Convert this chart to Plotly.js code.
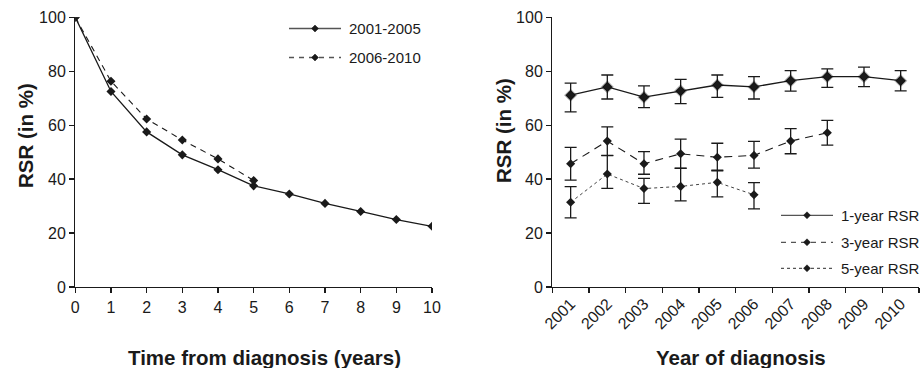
<!DOCTYPE html>
<html>
<head>
<meta charset="utf-8">
<script src="https://cdn.plot.ly/plotly-3.0.1.min.js"></script>
<style>html,body{margin:0;padding:0;background:#fff;}#chart{width:921px;height:368px;}</style>
</head>
<body>
<div id="chart"></div>
<script>
// ---- Left panel: RSR by time from diagnosis ----
const timeYears = [0, 1, 2, 3, 4, 5, 6, 7, 8, 9, 10];
const rsr2001_2005 = [100, 72.5, 57.5, 49, 43.5, 37.5, 34.5, 31, 28, 25, 22.5];
const timeYearsB = [0, 1, 2, 3, 4, 5];
const rsr2006_2010 = [100, 76.3, 62.3, 54.5, 47.5, 39.5];
const leftSeriesNames = ['2001-2005', '2006-2010'];

// ---- Right panel: RSR by year of diagnosis ----
const diagYears = ["2001", "2002", "2003", "2004", "2005", "2006", "2007", "2008", "2009", "2010"];
const rsr1y = [71.1, 74.2, 70.4, 72.7, 74.9, 74.2, 76.5, 78.0, 78.0, 76.5];
const rsr1yUpper = [75.6, 78.6, 74.6, 77.0, 78.6, 78.0, 80.2, 80.9, 81.5, 80.2];
const rsr1yLower = [64.9, 69.7, 66.5, 68.0, 70.3, 69.7, 72.6, 74.0, 74.3, 72.7];

const diagYears3 = ["2001", "2002", "2003", "2004", "2005", "2006", "2007", "2008"];
const rsr3y = [45.7, 54.1, 45.7, 49.4, 48.1, 48.8, 54.1, 57.2];
const rsr3yUpper = [51.8, 59.4, 50.2, 54.8, 53.3, 54.0, 58.7, 61.8];
const rsr3yLower = [39.6, 48.8, 41.8, 44.1, 43.3, 44.1, 49.4, 52.6];

const diagYears5 = ["2001", "2002", "2003", "2004", "2005", "2006"];
const rsr5y = [31.4, 41.9, 36.5, 37.3, 38.8, 34.2];
const rsr5yUpper = [37.2, 48.7, 40.3, 44.0, 43.1, 38.7];
const rsr5yLower = [25.6, 36.6, 31.0, 31.9, 33.4, 29.0];
const rightSeriesNames = ['1-year RSR', '3-year RSR', '5-year RSR'];

const ink = '#1a1a1a';
const legendInk = '#555';
const FONT = 'Liberation Sans, Arial, sans-serif';

function errs(vals, up, lo) {
  return {
    type: 'data', symmetric: false,
    array: up.map((u, i) => +(u - vals[i]).toFixed(2)),
    arrayminus: lo.map((l, i) => +(vals[i] - l).toFixed(2)),
    color: ink, thickness: 1.3, width: 6
  };
}

const traces = [
  {x: timeYears, y: rsr2001_2005, name: leftSeriesNames[0], type: 'scatter', mode: 'lines+markers',
   xaxis: 'x', yaxis: 'y', showlegend: false,
   line: {color: ink, width: 1.3}, marker: {symbol: 'diamond', size: 7, color: ink}},
  {x: timeYearsB, y: rsr2006_2010, name: leftSeriesNames[1], type: 'scatter', mode: 'lines+markers',
   xaxis: 'x', yaxis: 'y', showlegend: false,
   line: {color: ink, width: 1.1, dash: '6px,5px'}, marker: {symbol: 'diamond', size: 7, color: ink}},
  {x: diagYears, y: rsr1y, name: rightSeriesNames[0], type: 'scatter', mode: 'lines+markers',
   xaxis: 'x2', yaxis: 'y2', showlegend: false,
   error_y: errs(rsr1y, rsr1yUpper, rsr1yLower),
   line: {color: ink, width: 1.3}, marker: {symbol: 'diamond', size: 8, color: ink, line: {color: 'rgba(0,0,0,0.3)', width: 2}}},
  {x: diagYears3, y: rsr3y, name: rightSeriesNames[1], type: 'scatter', mode: 'lines+markers',
   xaxis: 'x2', yaxis: 'y2', showlegend: false,
   error_y: errs(rsr3y, rsr3yUpper, rsr3yLower),
   line: {color: ink, width: 1.1, dash: '8px,6px'}, marker: {symbol: 'diamond', size: 7, color: ink}},
  {x: diagYears5, y: rsr5y, name: rightSeriesNames[2], type: 'scatter', mode: 'lines+markers',
   xaxis: 'x2', yaxis: 'y2', showlegend: false,
   error_y: errs(rsr5y, rsr5yUpper, rsr5yLower),
   line: {color: '#444', width: 1, dash: 'dot'}, marker: {symbol: 'diamond', size: 7, color: ink}}
];

const W = 921, H = 368;
const px = v => v / W;
const py = v => (H - v) / H;

const axisCommon = {
  showline: true, linecolor: ink, linewidth: 1.3, ticks: 'outside', ticklen: 5, tickwidth: 1.3,
  tickcolor: ink, showgrid: false, zeroline: false, fixedrange: true,
  tickfont: {family: FONT, size: 16, color: ink}
};

// Hand-drawn legends (long sample lines like the original)
const shapes = [];
const annotations = [];
function legendItem(x0, x1, y, dash, label) {
  shapes.push({type: 'line', xref: 'paper', yref: 'paper', x0: px(x0), x1: px(x1), y0: py(y), y1: py(y),
    line: {color: legendInk, width: 1.3, dash: dash}});
  const cx = (x0 + x1) / 2, r = 3.5;
  shapes.push({type: 'path', xref: 'paper', yref: 'paper',
    path: `M${px(cx)},${py(y - r)} L${px(cx + r)},${py(y)} L${px(cx)},${py(y + r)} L${px(cx - r)},${py(y)} Z`,
    fillcolor: ink, line: {color: ink, width: 0.5}});
  annotations.push({text: label, x: px(x1 + 6), y: py(y), xref: 'paper', yref: 'paper', xanchor: 'left', yanchor: 'middle',
    showarrow: false, font: {family: FONT, size: 15, color: ink}});
}
legendItem(289, 341, 28.5, 'solid', leftSeriesNames[0]);
legendItem(289, 341, 57.5, '5px,5px', leftSeriesNames[1]);
legendItem(781, 833, 215.3, 'solid', rightSeriesNames[0]);
legendItem(781, 833, 242.3, '5px,5px', rightSeriesNames[1]);
legendItem(781, 833, 268.3, 'dot', rightSeriesNames[2]);

function title(text, x, y, angle) {
  annotations.push({text: '<b>' + text + '</b>', textangle: angle, x: px(x), y: py(y), xref: 'paper', yref: 'paper',
    xanchor: 'center', yanchor: 'middle', showarrow: false, font: {family: FONT, size: 20.5, color: ink}});
}
title('RSR (in %)', 25, 136, -90);
title('RSR (in %)', 503, 131, -90);
title('Time from diagnosis (years)', 264, 357, 0);
title('Year of diagnosis', 741, 357, 0);

const layout = {
  width: W, height: H,
  margin: {l: 0, r: 0, t: 0, b: 0},
  paper_bgcolor: '#fff', plot_bgcolor: '#fff',
  font: {family: FONT, color: ink},
  showlegend: false,
  xaxis: Object.assign({}, axisCommon, {domain: [px(75.3), px(432)], range: [0, 10], dtick: 1, tick0: 0, anchor: 'y'}),
  yaxis: Object.assign({}, axisCommon, {domain: [py(287), py(17.3)], range: [0, 100], dtick: 20, tick0: 0, anchor: 'x'}),
  xaxis2: Object.assign({}, axisCommon, {domain: [px(552.3), px(919)], type: 'category', tickson: 'boundaries',
    tickangle: -45, anchor: 'y2', range: [-0.5, 9.5]}),
  yaxis2: Object.assign({}, axisCommon, {domain: [py(287), py(17.3)], range: [0, 100], dtick: 20, tick0: 0, anchor: 'x2'}),
  shapes: shapes,
  annotations: annotations
};

Plotly.newPlot('chart', traces, layout, {displayModeBar: false, staticPlot: true});
</script>
</body>
</html>
